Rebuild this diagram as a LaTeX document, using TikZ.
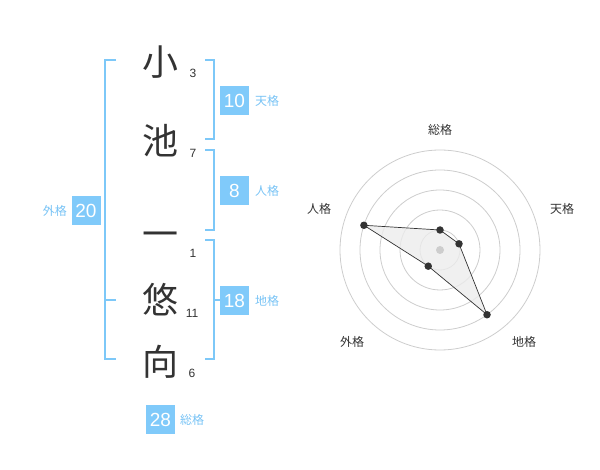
\documentclass[tikz,border=0pt]{standalone}
\usepackage{fontspec}
\setmainfont{Liberation Sans}
\newfontfamily\cjk{Noto Sans CJK JP}
\definecolor{brk}{RGB}{125,200,248}
\definecolor{boxc}{RGB}{128,202,250}
\definecolor{lbl}{RGB}{120,195,245}
\definecolor{ink}{RGB}{51,51,51}
\definecolor{ring}{RGB}{205,205,205}
\tikzset{
  bigch/.style={font=\cjk\fontsize{36}{36}\selectfont, text=ink, inner sep=0pt},
  strokes/.style={font=\fontsize{12}{12}\selectfont, text=ink, inner sep=0pt},
  numbox/.style={fill=boxc, text=white, minimum width=29pt, minimum height=29pt, inner sep=0pt, font=\fontsize{19}{19}\selectfont},
  kaku/.style={font=\cjk\fontsize{12}{12}\selectfont, text=lbl, inner sep=0pt},
  bracket/.style={draw=brk, line width=2pt},
  axlabel/.style={font=\cjk\fontsize{12}{12}\selectfont, text=ink, inner sep=0pt},
  ringline/.style={draw=ring, line width=0.8pt},
  pt/.style={circle, fill=ink, inner sep=0pt, minimum size=7.5pt},
}
\begin{document}
\begin{tikzpicture}[x=1pt,y=-1pt]
\useasboundingbox (0,0) rectangle (600,470);
% name characters
\node[bigch] (c1) at (160,62) {小};
\node[bigch] (c2) at (160,141) {池};
\node[bigch] (c3) at (160,240) {一};
\node[bigch] (c4) at (160,300) {悠};
\node[bigch] (c5) at (160,362) {向};
% stroke counts
\node[strokes] (s1) at (193,73) {3};
\node[strokes] (s2) at (193,153) {7};
\node[strokes] (s3) at (193,253) {1};
\node[strokes] (s4) at (192,313) {11};
\node[strokes] (s5) at (192,373) {6};
% brackets
\draw[bracket] (116,60) -- (105,60) -- (105,359) -- (116,359);
\draw[bracket] (105,300) -- (116,300);
\draw[bracket] (205,60) -- (214,60) -- (214,139) -- (205,139);
\draw[bracket] (205,150) -- (214,150) -- (214,230) -- (205,230);
\draw[bracket] (205,240) -- (214,240) -- (214,359) -- (205,359);
\draw[bracket] (214,300) -- (220,300);
% boxes and labels
\node[numbox] (ten) at (234.5,100.5) {10};
\node[kaku, anchor=west] (tenl) at (255,101) {天格};
\node[numbox] (jin) at (234.5,190.5) {8};
\node[kaku, anchor=west] (jinl) at (255,191) {人格};
\node[numbox] (gai) at (86,210.5) {20};
\node[kaku, anchor=east] (gail) at (67,211) {外格};
\node[numbox] (chi) at (234.5,300.5) {18};
\node[kaku, anchor=west] (chil) at (255,301) {地格};
\node[numbox] (sou) at (160.5,419.5) {28};
\node[kaku, anchor=west] (soul) at (180,420) {総格};
% radar chart
\coordinate (O) at (440,250);
\foreach \r in {20,40,60,80,100} \draw[ringline] (O) circle[radius=\r];
\path (O) ++(0,-20) coordinate (pSou);
\path (O) ++(19.02,-6.18) coordinate (pTen);
\path (O) ++(47.02,64.72) coordinate (pChi);
\path (O) ++(-11.76,16.18) coordinate (pGai);
\path (O) ++(-76.08,-24.72) coordinate (pJin);
\filldraw[fill=gray!15, fill opacity=0.8, draw=ink, line width=0.7pt]
  (pSou) -- (pTen) -- (pChi) -- (pGai) -- (pJin) -- cycle;
\node[circle, fill=ring, inner sep=0pt, minimum size=8pt] (ctr) at (O) {};
\node[pt] (dSou) at (pSou) {};
\node[pt] (dTen) at (pTen) {};
\node[pt] (dChi) at (pChi) {};
\node[pt] (dGai) at (pGai) {};
\node[pt] (dJin) at (pJin) {};
\node[axlabel] (aSou) at (440,130) {総格};
\node[axlabel] (aTen) at (562,209) {天格};
\node[axlabel] (aJin) at (319,209) {人格};
\node[axlabel] (aGai) at (352,342) {外格};
\node[axlabel] (aChi) at (524,342) {地格};
\end{tikzpicture}
\end{document}
